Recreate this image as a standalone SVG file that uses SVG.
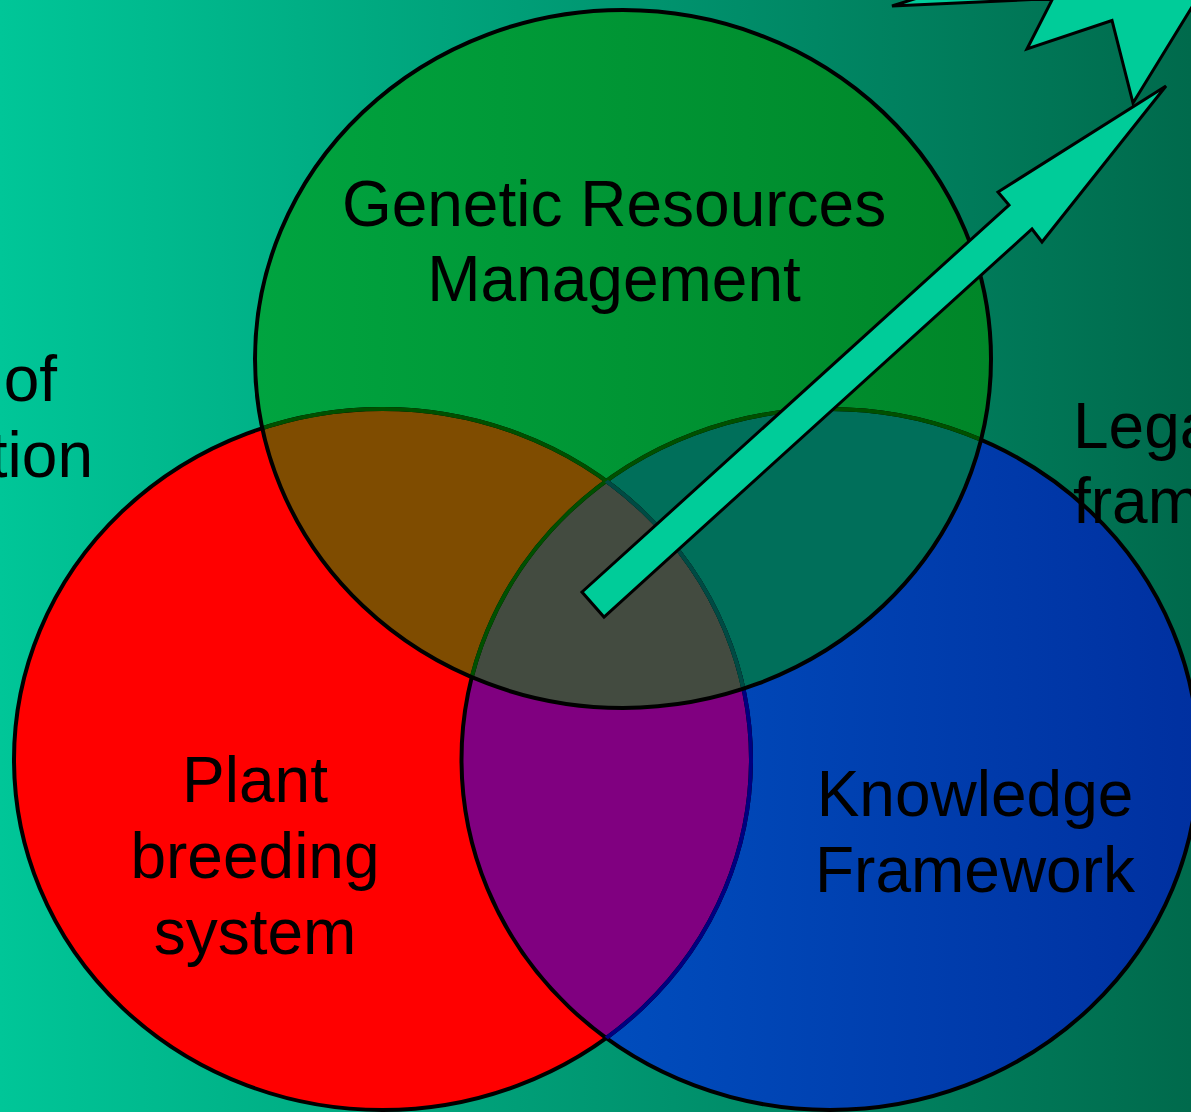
<svg xmlns="http://www.w3.org/2000/svg" xmlns:xlink="http://www.w3.org/1999/xlink" width="1191" height="1112" viewBox="0 0 1191 1112">
<style>
.lbl{font-family:"Liberation Sans",Arial,sans-serif;font-size:64px;fill:#000;text-anchor:middle}
.side{font-family:"Liberation Sans",Arial,sans-serif;font-size:64px;fill:#000}
.ol{fill:none;stroke-width:4}
.shape{fill:#00cc99;stroke:#000;stroke-width:3;stroke-linejoin:miter}
</style>
<defs>
<linearGradient id="gBg" x1="0" y1="0" x2="1" y2="0">
<stop offset="0" stop-color="#00c698"/>
<stop offset="1" stop-color="#006a4c"/>
</linearGradient>
<linearGradient id="gGreen" x1="0" y1="0" x2="1" y2="0">
<stop offset="0" stop-color="#00a440"/>
<stop offset="1" stop-color="#008628"/>
</linearGradient>
<linearGradient id="gBlue" x1="0" y1="0" x2="1" y2="0">
<stop offset="0" stop-color="#0054c4"/>
<stop offset="1" stop-color="#0030a0"/>
</linearGradient>
<ellipse id="eG" cx="623" cy="359" rx="368" ry="349"/>
<ellipse id="eR" cx="382.5" cy="759.5" rx="368.5" ry="350.5"/>
<ellipse id="eB" cx="830" cy="759.5" rx="368.5" ry="350.5"/>
<clipPath id="cG"><use xlink:href="#eG"/></clipPath>
<clipPath id="cR"><use xlink:href="#eR"/></clipPath>
<clipPath id="cB"><use xlink:href="#eB"/></clipPath>
</defs>
<rect x="0" y="0" width="1191" height="1112" fill="url(#gBg)"/>
<g id="side-labels">
<text class="side" x="57" y="401" text-anchor="end">of</text>
<text class="side" x="93" y="477" text-anchor="end">tion</text>
</g>
<g id="node-genetic-resources">
<use xlink:href="#eG" fill="url(#gGreen)"/>
</g>
<g id="node-plant-breeding">
<use xlink:href="#eR" fill="#ff0000"/>
</g>
<g id="node-knowledge">
<use xlink:href="#eB" fill="url(#gBlue)"/>
</g>
<g id="overlaps">
<g clip-path="url(#cR)"><use xlink:href="#eB" fill="#800080"/></g>
<g clip-path="url(#cG)"><use xlink:href="#eR" fill="#7f4c00"/><use xlink:href="#eB" fill="#006f5a"/></g>
<g clip-path="url(#cG)"><g clip-path="url(#cR)"><use xlink:href="#eB" fill="#434b40"/></g></g>
</g>
<g id="outlines">
<use xlink:href="#eR" class="ol" stroke="#000"/>
<use xlink:href="#eB" class="ol" stroke="#000"/>
<g clip-path="url(#cB)"><use xlink:href="#eR" class="ol" stroke="#000080"/></g>
<g clip-path="url(#cG)"><use xlink:href="#eR" class="ol" stroke="#005000"/><use xlink:href="#eB" class="ol" stroke="#005000"/></g>
<g clip-path="url(#cG)"><g clip-path="url(#cB)"><use xlink:href="#eR" class="ol" stroke="#004a44"/></g></g>
<use xlink:href="#eG" class="ol" stroke="#000"/>
</g>
<g id="labels">
<text class="lbl" x="614" y="226">Genetic Resources</text>
<text class="lbl" x="614" y="301">Management</text>
<text class="lbl" x="255" y="802">Plant</text>
<text class="lbl" x="255" y="878">breeding</text>
<text class="lbl" x="255" y="954">system</text>
<text class="lbl" x="975" y="816">Knowledge</text>
<text class="lbl" x="975" y="892">Framework</text>
<text class="side" x="1073" y="448">Lega</text>
<text class="side" x="1073" y="523">fram</text>
</g>
<g id="star">
<polygon class="shape" points="892,6 1052.7,-1.4 1027,49 1112,20.5 1133,103 1230,-55 1100,-80 931,-6.3"/>
</g>
<g id="connectors">
<polygon class="shape" points="582,592 1009,205 998,192 1166,86 1042,242 1032,229 604,617"/>
</g>
</svg>
